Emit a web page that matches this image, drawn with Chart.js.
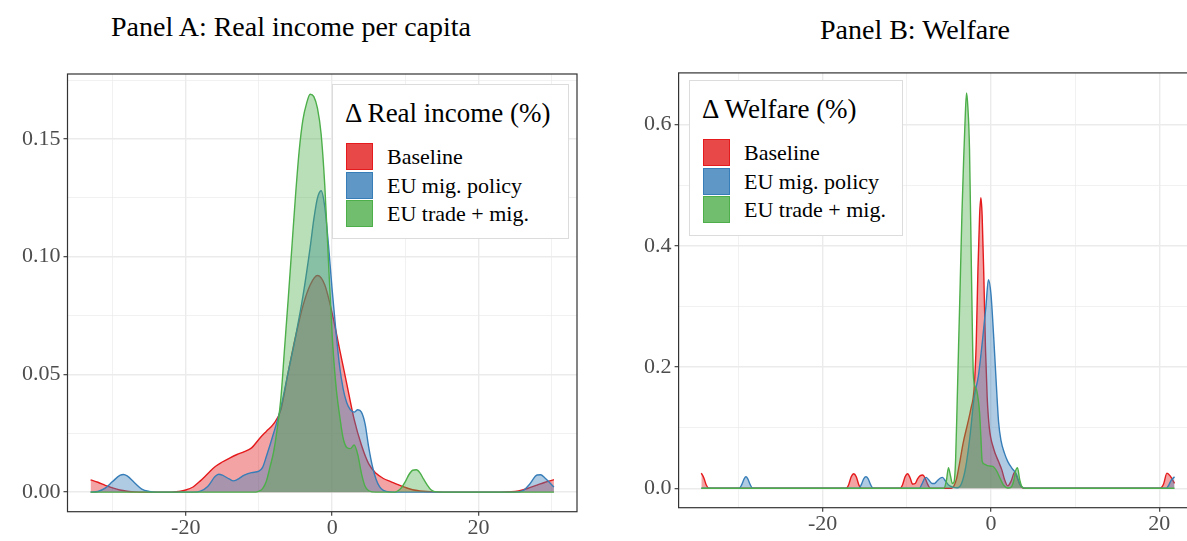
<!DOCTYPE html>
<html>
<head>
<meta charset="utf-8">
<script src="https://cdn.jsdelivr.net/npm/chart.js@4.4.0/dist/chart.umd.min.js"></script>
<style>
  html, body { margin: 0; padding: 0; background: #fff; }
  body { width: 1187px; height: 541px; overflow: hidden; position: relative; font-family: "Liberation Serif", serif; }
  .title { position: absolute; font-size: 28px; line-height: 30px; color: #000; white-space: nowrap; transform: translateX(-50%); }
  .wrap { position: absolute; top: 60px; }
  .legend { position: absolute; background: #fff; border: 1px solid #dcdcdc; box-sizing: border-box; }
  .legend .lt { position: absolute; left: 12px; top: 13px; font-size: 27px; line-height: 30px; white-space: nowrap; }
  .legend .key { position: absolute; left: 13px; width: 27px; height: 27px; box-sizing: border-box; border: 1.5px solid; }
  .legend .lab { position: absolute; left: 54px; font-size: 22px; line-height: 24px; white-space: nowrap; }
</style>
</head>
<body>
<div class="title" style="left:291px; top:12px;">Panel A: Real income per capita</div>
<div class="title" style="left:915px; top:15px;">Panel B: Welfare</div>
<div class="wrap" style="left:0;"><canvas id="incomeChart" width="600" height="481"></canvas></div>
<div class="wrap" style="left:600px;"><canvas id="welfareChart" width="620" height="481"></canvas></div>
<div id="incomeLegend" class="legend" style="left:332px; top:84px; width:237px; height:155px;"></div>
<div id="welfareLegend" class="legend" style="left:689px; top:80px; width:214px; height:156px;"></div>
<script>
const seriesNames = ['Baseline', 'EU mig. policy', 'EU trade + mig.'];
const seriesColors = ['#E41A1C', '#377EB8', '#4DAF4A'];

// Panel A: density of real income change (%)
const incomeBaselineX = [-33, -32, -31, -30, -29, -28, -27, -25, -22, -21, -20, -19, -18, -17, -16, -15, -14, -13, -12, -11, -10, -9, -8, -7, -6, -5, -4, -3, -2, -1, 0, 1, 2, 3, 4, 5, 6, 7, 8, 9, 10, 11, 12, 14, 17, 22, 25, 26, 27, 28, 29, 30.3];
const incomeBaselineY = [0.0052, 0.0042, 0.0029, 0.0018, 0.0009, 0.0004, 0.0001, 0, 0, 0.0003, 0.0009, 0.0022, 0.0048, 0.0078, 0.0108, 0.0128, 0.0145, 0.016, 0.0172, 0.0188, 0.0225, 0.0258, 0.029, 0.035, 0.051, 0.066, 0.079, 0.088, 0.092, 0.088, 0.076, 0.061, 0.046, 0.031, 0.020, 0.012, 0.008, 0.0058, 0.0045, 0.0032, 0.002, 0.001, 0.0005, 0.0001, 0, 0, 0.0003, 0.0009, 0.0019, 0.003, 0.0041, 0.0053];

const incomeMigX = [-33, -32, -31, -30, -29, -28.5, -28, -27, -26, -25, -24, -19, -18, -17, -16, -15.5, -15, -14, -13.5, -13, -12, -11, -10, -9.5, -9, -8, -7, -6, -5, -4, -3, -2.5, -2, -1.5, -1, -0.5, 0, 0.5, 1, 1.5, 2, 2.5, 3, 3.5, 4, 4.5, 5, 5.5, 6, 6.5, 7, 8, 9, 25, 26, 27, 28, 28.5, 29, 30.3];
const incomeMigY = [0, 0.0003, 0.0017, 0.0045, 0.0071, 0.0075, 0.0069, 0.0040, 0.0013, 0.0003, 0, 0, 0.0004, 0.0024, 0.0066, 0.0076, 0.0072, 0.0055, 0.0048, 0.0053, 0.0072, 0.0083, 0.0089, 0.0105, 0.015, 0.025, 0.036, 0.051, 0.066, 0.083, 0.104, 0.116, 0.125, 0.128, 0.121, 0.105, 0.086, 0.069, 0.054, 0.044, 0.038, 0.035, 0.034, 0.035, 0.034, 0.029, 0.019, 0.011, 0.0055, 0.0022, 0.0008, 0.0001, 0, 0, 0.0005, 0.0035, 0.0073, 0.0074, 0.0062, 0.0022];

const incomeTradeX = [-33, -10.5, -10, -9.5, -9, -8.5, -8, -7.5, -7, -6.5, -6, -5.5, -5, -4.5, -4, -3.5, -3, -2.5, -2, -1.5, -1, -0.5, 0, 0.5, 1, 1.5, 2, 2.5, 3, 3.5, 4, 4.5, 5, 6, 8.5, 9, 9.5, 10, 10.5, 11, 11.5, 12, 12.5, 13, 13.5, 14, 15, 30.3];
const incomeTradeY = [0, 0, 0.0004, 0.0015, 0.0045, 0.0105, 0.017, 0.027, 0.040, 0.061, 0.082, 0.104, 0.126, 0.145, 0.158, 0.165, 0.169, 0.168, 0.163, 0.152, 0.130, 0.098, 0.067, 0.046, 0.033, 0.023, 0.019, 0.0185, 0.020, 0.016, 0.008, 0.0025, 0.0006, 0, 0, 0.0006, 0.002, 0.0045, 0.0075, 0.0093, 0.0095, 0.0082, 0.0055, 0.003, 0.001, 0.0002, 0, 0];

// Panel B: density of welfare change (%)
const welfareBaselineX = [-34.4, -34.1, -33.8, -33.5, -17.2, -16.9, -16.6, -16.3, -16.0, -15.7, -15.4, -10.8, -10.5, -10.2, -9.9, -9.6, -9.3, -9.0, -8.7, -8.4, -8.1, -7.8, -7.5, -7.2, -4.7, -4.4, -4.1, -3.8, -3.3, -2.8, -2.4, -2.0, -1.75, -1.55, -1.35, -1.2, -1.05, -0.85, -0.65, -0.45, -0.2, 0.3, 0.9, 1.3, 1.6, 2.0, 2.4, 2.8, 3.2, 3.6, 4.0, 20.1, 20.5, 20.9, 21.3, 21.8];
const welfareBaselineY = [0.025, 0.017, 0.005, 0, 0, 0.006, 0.019, 0.024, 0.019, 0.006, 0, 0, 0.006, 0.019, 0.024, 0.017, 0.007, 0.008, 0.016, 0.021, 0.022, 0.016, 0.006, 0, 0, 0.004, 0.015, 0.036, 0.075, 0.105, 0.130, 0.165, 0.24, 0.36, 0.45, 0.479, 0.45, 0.35, 0.23, 0.15, 0.10, 0.066, 0.044, 0.030, 0.015, 0.004, 0.012, 0.026, 0.014, 0.002, 0, 0, 0.007, 0.025, 0.020, 0.008];

const welfareMigX = [-34.4, -29.9, -29.6, -29.3, -29.1, -28.9, -28.6, -28.3, -15.7, -15.4, -15.1, -14.85, -14.6, -14.3, -14.0, -8.5, -8.2, -7.9, -7.7, -7.4, -7.0, -6.7, -6.4, -6.0, -5.75, -5.4, -5.0, -4.5, -4.0, -3.5, -3.0, -2.5, -2.0, -1.5, -1.0, -0.6, -0.3, 0, 0.3, 0.6, 0.9, 1.2, 1.6, 2.0, 2.5, 3.0, 3.4, 3.8, 4.2, 20.8, 21.1, 21.4, 21.8];
const welfareMigY = [0, 0, 0.006, 0.016, 0.019, 0.016, 0.006, 0, 0, 0.006, 0.016, 0.019, 0.016, 0.006, 0, 0, 0.007, 0.016, 0.018, 0.014, 0.008, 0.008, 0.012, 0.017, 0.018, 0.012, 0.005, 0.002, 0.001, 0.008, 0.035, 0.085, 0.150, 0.185, 0.245, 0.30, 0.344, 0.32, 0.255, 0.18, 0.11, 0.078, 0.058, 0.044, 0.033, 0.024, 0.008, 0.001, 0, 0, 0.005, 0.013, 0.019];

const welfareTradeX = [-34.4, -5.6, -5.3, -5.05, -4.8, -4.6, -4.4, -4.2, -4.0, -3.85, -3.65, -3.45, -3.25, -3.05, -2.9, -2.75, -2.55, -2.3, -2.1, -1.9, -1.7, -1.5, -1.35, -1.2, -1.05, -0.8, -0.3, 0.2, 0.7, 1.1, 1.5, 2.0, 2.4, 2.7, 2.95, 3.15, 3.4, 3.7, 4.1, 21.8];
const welfareTradeY = [0, 0, 0.012, 0.034, 0.02, 0.008, 0.01, 0.047, 0.15, 0.233, 0.34, 0.452, 0.54, 0.616, 0.652, 0.63, 0.56, 0.34, 0.19, 0.168, 0.162, 0.145, 0.124, 0.085, 0.045, 0.040, 0.037, 0.036, 0.028, 0.016, 0.005, 0.0005, 0.002, 0.012, 0.030, 0.034, 0.015, 0.002, 0, 0];

// tick positions (minor ones carry an empty label)
const incomeXTicks = [-30, -20, -10, 0, 10, 20, 30];
const incomeXTickLabels = ['', '-20', '', '0', '', '20', ''];
const incomeYTicks = [0, 0.025, 0.05, 0.075, 0.1, 0.125, 0.15, 0.175];
const incomeYTickLabels = ['0.00', '', '0.05', '', '0.10', '', '0.15', ''];
const welfareXTicks = [-30, -20, -10, 0, 10, 20];
const welfareXTickLabels = ['', '-20', '', '0', '', '20'];
const welfareYTicks = [0, 0.1, 0.2, 0.3, 0.4, 0.5, 0.6];
const welfareYTickLabels = ['0.0', '', '0.2', '', '0.4', '', '0.6'];

Chart.defaults.font.family = "'Liberation Serif', serif";

function hexToRgba(hex, a) {
    const n = parseInt(hex.slice(1), 16);
    return 'rgba(' + (n >> 16) + ',' + ((n >> 8) & 255) + ',' + (n & 255) + ',' + a + ')';
}

function pts(xs, ys) {
    return xs.map((x, i) => ({ x: x, y: ys[i] }));
}

function densitySet(i, xs, ys) {
    return {
        label: seriesNames[i],
        data: pts(xs, ys),
        borderColor: seriesColors[i],
        backgroundColor: hexToRgba(seriesColors[i], 0.4),
        borderWidth: 1.4,
        fill: 'origin',
        pointRadius: 0,
        cubicInterpolationMode: 'monotone',
        order: 3 - i
    };
}

function axis(min, max, tickValues, tickLabels, fitSize, isX) {
    const major = ctx => tickLabels[ctx.index] !== '';
    return {
        type: 'linear',
        min: min,
        max: max,
        afterBuildTicks: s => { s.ticks = tickValues.map(v => ({ value: v })); },
        afterFit: s => { if (isX) s.height = fitSize; else s.width = fitSize; },
        border: { display: false },
        grid: {
            color: '#EBEBEB',
            lineWidth: ctx => major(ctx) ? 1.4 : 0.7,
            drawTicks: true,
            tickLength: 4,
            tickWidth: 1.1,
            tickColor: ctx => major(ctx) ? '#333333' : 'rgba(0,0,0,0)'
        },
        ticks: {
            autoSkip: false,
            maxRotation: 0,
            padding: isX ? 3 : 3,
            color: '#4D4D4D',
            font: { size: 22, lineHeight: 0.9 },
            callback: (v, i) => tickLabels[i]
        }
    };
}

const panelBorder = {
    id: 'panelBorder',
    afterDatasetsDraw(chart) {
        const a = chart.chartArea;
        const ctx = chart.ctx;
        ctx.save();
        ctx.strokeStyle = '#333333';
        ctx.lineWidth = 1.2;
        ctx.strokeRect(a.left, a.top, a.right - a.left, a.bottom - a.top);
        ctx.restore();
    }
};

function buildChart(id, datasets, xAxis, yAxis, padding) {
    new Chart(document.getElementById(id).getContext('2d'), {
        type: 'line',
        data: { datasets: datasets },
        options: {
            responsive: false,
            animation: false,
            devicePixelRatio: 1,
            layout: { padding: padding },
            plugins: { legend: { display: false }, tooltip: { enabled: false } },
            scales: { x: xAxis, y: yAxis }
        },
        plugins: [panelBorder]
    });
}

buildChart('incomeChart', [
        densitySet(0, incomeBaselineX, incomeBaselineY),
        densitySet(1, incomeMigX, incomeMigY),
        densitySet(2, incomeTradeX, incomeTradeY)
    ],
    axis(-36.15, 33.45, incomeXTicks, incomeXTickLabels, 29.3, true),
    axis(-0.0083, 0.1776, incomeYTicks, incomeYTickLabels, 67.5, false),
    { left: 0, top: 14, right: 23, bottom: 0 });

buildChart('welfareChart', [
        densitySet(0, welfareBaselineX, welfareBaselineY),
        densitySet(1, welfareMigX, welfareMigY),
        densitySet(2, welfareTradeX, welfareTradeY)
    ],
    axis(-37.1, 24.6, welfareXTicks, welfareXTickLabels, 33.3, true),
    axis(-0.032, 0.685, welfareYTicks, welfareYTickLabels, 78.6, false),
    { left: 0, top: 10.7, right: 21.9, bottom: 0 });

function buildLegend(id, title) {
    const box = document.getElementById(id);
    const t = document.createElement('div');
    t.className = 'lt';
    t.textContent = title;
    box.appendChild(t);
    seriesNames.forEach((name, i) => {
        const key = document.createElement('div');
        key.className = 'key';
        key.style.top = (58 + i * 28.5) + 'px';
        key.style.background = hexToRgba(seriesColors[i], 0.8);
        key.style.borderColor = seriesColors[i];
        box.appendChild(key);
        const lab = document.createElement('div');
        lab.className = 'lab';
        lab.style.top = (60 + i * 28.5) + 'px';
        lab.textContent = name;
        box.appendChild(lab);
    });
}

buildLegend('incomeLegend', 'Δ Real income (%)');
buildLegend('welfareLegend', 'Δ Welfare (%)');
</script>
</body>
</html>
